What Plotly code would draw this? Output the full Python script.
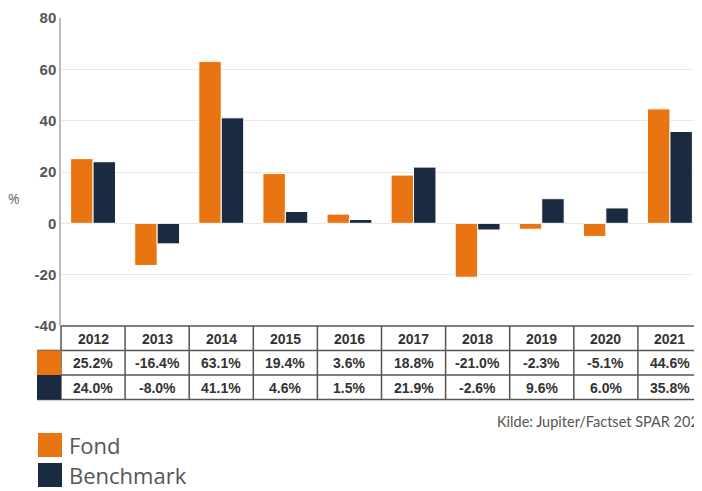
import plotly.graph_objects as go

years = ["2012", "2013", "2014", "2015", "2016", "2017", "2018", "2019", "2020", "2021"]
fond = [25.2, -16.4, 63.1, 19.4, 3.6, 18.8, -21.0, -2.3, -5.1, 44.6]
benchmark = [24.0, -8.0, 41.1, 4.6, 1.5, 21.9, -2.6, 9.6, 6.0, 35.8]
y_ticks = [-40, -20, 0, 20, 40, 60, 80]
y_ticktext = ["-40", "-20", "0", "20", "40", "60", "80"]
source_text = "Kilde: Jupiter/Factset SPAR 202"

ORANGE = "#E87511"
NAVY = "#1A2A40"
OFF = 8  # default page body margin
W, H = 702 - OFF, 491 - OFF
ML, MT, MR = 61 - OFF, 18 - OFF, 0
PLOT_BOTTOM = 326 - OFF
MB = H - PLOT_BOTTOM
PW = W - ML - MR
PH = H - MT - MB

def py(ref_y):
    return (PLOT_BOTTOM - (ref_y - OFF)) / PH

def px(ref_x):
    return ((ref_x - OFF) - ML) / PW

idx = list(range(len(years)))

fig = go.Figure()
fig.add_trace(go.Bar(x=idx, y=fond, name="Fond", marker=dict(color=ORANGE, line=dict(color="white", width=1))))
fig.add_trace(go.Bar(x=idx, y=benchmark, name="Benchmark", marker=dict(color=NAVY, line=dict(color="white", width=1))))

shapes = []
annotations = []
line_col = "#555555"
row_edges = [326, 350.5, 375, 399.5]
shapes.append(dict(type="line", xref="paper", yref="paper", x0=0, x1=1, y0=py(326), y1=py(326), line=dict(color=line_col, width=1.5)))
for ry in row_edges[1:]:
    shapes.append(dict(type="line", xref="paper", yref="paper", x0=px(37), x1=1, y0=py(ry), y1=py(ry), line=dict(color=line_col, width=1.5)))
for i in range(len(years) + 1):
    shapes.append(dict(type="line", xref="paper", yref="paper", x0=i / len(years), x1=i / len(years),
                       y0=py(326), y1=py(399.5), line=dict(color=line_col, width=1.5)))
shapes.append(dict(type="rect", xref="paper", yref="paper", x0=px(37), x1=0, y0=py(375), y1=py(350.5), fillcolor=ORANGE, line=dict(width=0)))
shapes.append(dict(type="rect", xref="paper", yref="paper", x0=px(37), x1=0, y0=py(399.5), y1=py(375), fillcolor=NAVY, line=dict(width=0)))

tfont = dict(family="Liberation Sans, Arial", size=14, color="#333333")
def cell(x, y, text):
    return dict(xref="paper", yref="paper", x=x, y=y, xanchor="center", yanchor="middle",
                text=text, showarrow=False, font=tfont)

for i, yr in enumerate(years):
    xc = (i + 0.5) / len(years)
    annotations.append(cell(xc, py(338.5), "<b>%s</b>" % yr))
    annotations.append(cell(xc, py(363), "<b>%.1f%%</b>" % fond[i]))
    annotations.append(cell(xc, py(387.5), "<b>%.1f%%</b>" % benchmark[i]))

annotations.append(dict(xref="paper", yref="paper", x=px(14), y=py(198), xanchor="center", yanchor="middle",
                        text="%", showarrow=False, font=dict(family="Open Sans", size=14, color="#666666")))
annotations.append(dict(xref="paper", yref="paper", x=px(701), xanchor="right", y=py(421), yanchor="middle",
                        text=source_text, showarrow=False, font=dict(family="Lato", size=14.5, color="#555555")))
for k, (name, col) in enumerate([("Fond", ORANGE), ("Benchmark", NAVY)]):
    top = 433 + 30 * k
    shapes.append(dict(type="rect", xref="paper", yref="paper", x0=px(38), x1=px(62), y0=py(top + 24), y1=py(top),
                       fillcolor=col, line=dict(width=0)))
    annotations.append(dict(xref="paper", yref="paper", x=px(67), xanchor="left", y=py(top + 12), yanchor="middle",
                            text=name, showarrow=False, font=dict(family="Open Sans", size=22, color="#555555")))

fig.update_layout(
    width=W, height=H,
    margin=dict(l=ML, r=MR, t=MT, b=MB, pad=0),
    paper_bgcolor="white", plot_bgcolor="white",
    barmode="group", bargap=0.3, bargroupgap=0,
    showlegend=False,
    shapes=shapes, annotations=annotations,
    xaxis=dict(range=[-0.5, 9.5], showticklabels=False, showgrid=False, zeroline=False, showline=False, ticks=""),
    yaxis=dict(range=[-40, 80], tickvals=y_ticks, ticktext=y_ticktext, gridcolor="#e8e8e8", gridwidth=1, zeroline=False,
               showline=True, linecolor="#bbbbbb", linewidth=1.5, ticks="",
               tickfont=dict(family="Liberation Sans, Arial", size=15, color="#555555", weight="bold")),
)

fig.write_html("out.html")
